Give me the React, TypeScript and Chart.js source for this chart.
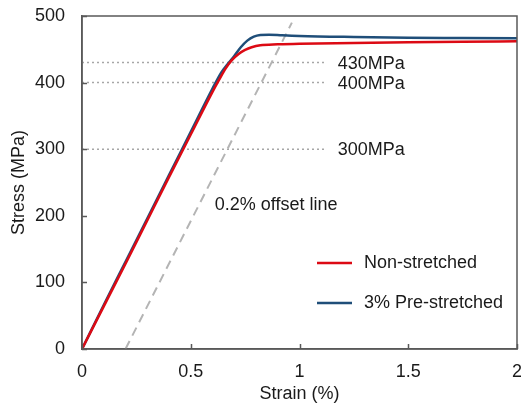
import React, { useEffect, useRef } from "react";
import { Chart, registerables } from "chart.js";

Chart.register(...registerables);

const nonStretchedStrain = [0, 0.1, 0.2, 0.3, 0.4, 0.5, 0.6, 0.63, 0.66, 0.69, 0.72, 0.75, 0.78, 0.82, 0.9, 1.0, 1.25, 1.5, 1.75, 2.0];
const nonStretchedStress = [0, 64, 128, 193, 258, 322, 386, 404, 421, 434, 443, 449, 453, 456, 457.5, 458.5, 459.5, 460.5, 461.3, 462];

const preStretchedStrain = [0, 0.1, 0.2, 0.3, 0.4, 0.5, 0.6, 0.64, 0.67, 0.7, 0.73, 0.76, 0.79, 0.82, 0.86, 0.92, 1.0, 1.25, 1.5, 1.75, 2.0];
const preStretchedStress = [0, 66, 131, 196, 261, 326, 391, 415, 428, 440, 453, 463, 469, 471.5, 472, 471, 470, 468.5, 467.5, 467, 466.5];

const offsetStrain = [0.2, 0.965];
const offsetStress = [0, 490];

const refLevels = [430, 400, 300];
const refLabels = ["430MPa", "400MPa", "300MPa"];
const refLineEnd = 1.125;

const xTickValues = [0, 0.5, 1, 1.5, 2];
const yTickValues = [0, 100, 200, 300, 400, 500];

const seriesNames = ["Non-stretched", "3% Pre-stretched"];
const offsetLabel = "0.2% offset line";
const xTitle = "Strain (%)";
const yTitle = "Stress (MPa)";

const RED = "#dc0a14";
const BLUE = "#1f4e79";
const AXIS = "#595959";
const TEXT = "#1a1a1a";
const FONT = "'Liberation Sans', Arial, sans-serif";

const toPoints = (xs: number[], ys: number[]) => xs.map((x, i) => ({ x, y: ys[i] }));

const decorPlugin = {
  id: "decor",
  afterDatasetsDraw(chart: any) {
    const { ctx, chartArea, scales } = chart;
    const xs = scales.x;
    const ys = scales.y;
    ctx.save();
    ctx.strokeStyle = AXIS;
    ctx.lineWidth = 1.5;
    ctx.strokeRect(chartArea.left, chartArea.top, chartArea.right - chartArea.left, chartArea.bottom - chartArea.top);
    ctx.beginPath();
    xTickValues.forEach((v) => {
      const px = Math.round(xs.getPixelForValue(v)) + 0.5;
      ctx.moveTo(px, chartArea.bottom);
      ctx.lineTo(px, chartArea.bottom - 5);
    });
    yTickValues.forEach((v) => {
      const py = Math.round(ys.getPixelForValue(v)) + 0.5;
      ctx.moveTo(chartArea.left, py);
      ctx.lineTo(chartArea.left + 5, py);
    });
    ctx.stroke();

    ctx.fillStyle = TEXT;
    ctx.font = `18px ${FONT}`;
    ctx.textBaseline = "middle";
    ctx.textAlign = "left";
    refLevels.forEach((lvl, i) => {
      ctx.fillText(refLabels[i], xs.getPixelForValue(refLineEnd) + 11, ys.getPixelForValue(lvl) + 1);
    });
    ctx.fillText(offsetLabel, xs.getPixelForValue(0.61), ys.getPixelForValue(216));

    const lx = chartArea.left + 235;
    const ly = [chartArea.top + 247, chartArea.top + 287];
    const colors = [RED, BLUE];
    seriesNames.forEach((name, i) => {
      ctx.strokeStyle = colors[i];
      ctx.lineWidth = 2.5;
      ctx.beginPath();
      ctx.moveTo(lx, ly[i]);
      ctx.lineTo(lx + 35, ly[i]);
      ctx.stroke();
      ctx.fillStyle = TEXT;
      ctx.fillText(name, lx + 47, ly[i]);
    });
    ctx.restore();
  },
};

export default function App() {
  const ref = useRef<HTMLCanvasElement | null>(null);
  useEffect(() => {
    if (!ref.current) return;
    const refDatasets = refLevels.map((lvl) => ({
      label: `${lvl}`,
      data: toPoints([0, refLineEnd], [lvl, lvl]),
      borderColor: "#a6a6a6",
      borderWidth: 1.5,
      borderDash: [2, 3],
      pointRadius: 0,
      showLine: true,
    }));
    const chart = new Chart(ref.current, {
      type: "scatter",
      data: {
        datasets: [
          {
            label: seriesNames[0],
            data: toPoints(nonStretchedStrain, nonStretchedStress),
            borderColor: RED,
            borderWidth: 2.5,
            pointRadius: 0,
            showLine: true,
            cubicInterpolationMode: "monotone",
          },
          {
            label: seriesNames[1],
            data: toPoints(preStretchedStrain, preStretchedStress),
            borderColor: BLUE,
            borderWidth: 2.5,
            pointRadius: 0,
            showLine: true,
            cubicInterpolationMode: "monotone",
          },
          {
            label: offsetLabel,
            data: toPoints(offsetStrain, offsetStress),
            borderColor: "#b4b4b4",
            borderWidth: 2,
            borderDash: [9, 6],
            pointRadius: 0,
            showLine: true,
          },
          ...refDatasets,
        ] as any,
      },
      options: {
        animation: false,
        responsive: false,
        maintainAspectRatio: false,
        layout: { padding: { left: 0, right: 4, top: 16, bottom: 0 } },
        plugins: { legend: { display: false }, tooltip: { enabled: false } },
        scales: {
          x: {
            type: "linear",
            min: 0,
            max: 2,
            afterBuildTicks: (axis: any) => {
              axis.ticks = xTickValues.map((v) => ({ value: v }));
            },
            afterFit: (axis: any) => {
              axis.height = 60;
              axis.paddingLeft = 0;
              axis.paddingRight = 0;
            },
            grid: { display: false, drawTicks: false },
            border: { display: true, color: AXIS, width: 1.5 },
            ticks: {
              padding: 12,
              color: TEXT,
              font: { size: 18, family: FONT },
              maxRotation: 0,
              callback: (v: any) => `${v}`,
            },
            title: {
              display: true,
              text: xTitle,
              color: TEXT,
              font: { size: 18, family: FONT },
              padding: { top: 0, bottom: 4 },
            },
          },
          y: {
            type: "linear",
            min: 0,
            max: 500,
            afterBuildTicks: (axis: any) => {
              axis.ticks = yTickValues.map((v) => ({ value: v }));
            },
            afterFit: (axis: any) => {
              axis.width = 82;
              axis.paddingTop = 0;
              axis.paddingBottom = 0;
            },
            grid: { display: false, drawTicks: false },
            border: { display: true, color: AXIS, width: 1.5 },
            ticks: {
              padding: 17,
              color: TEXT,
              font: { size: 18, family: FONT },
            },
            title: {
              display: true,
              text: yTitle,
              color: TEXT,
              font: { size: 18, family: FONT },
              padding: { top: 8, bottom: 0 },
            },
          },
        },
      },
      plugins: [decorPlugin],
    });
    return () => chart.destroy();
  }, []);
  return (
    <div style={{ position: "absolute", left: 0, top: 0, width: 521, height: 409, background: "#fff" }}>
      <canvas ref={ref} width={521} height={409} style={{ width: 521, height: 409 }} />
    </div>
  );
}
